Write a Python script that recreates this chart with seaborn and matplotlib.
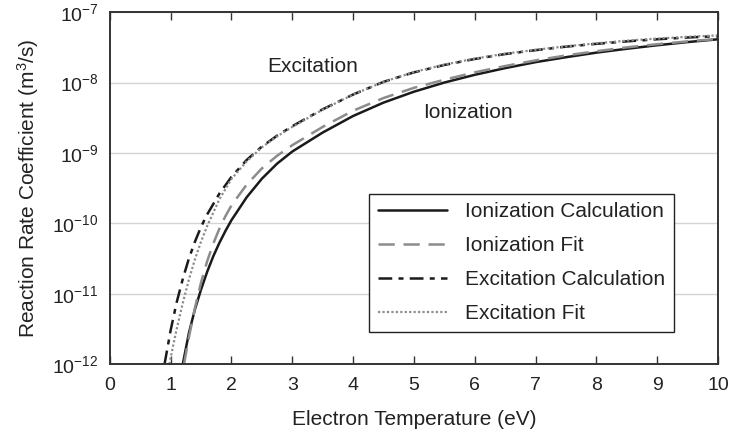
import numpy as np
import matplotlib
matplotlib.use("Agg")
import matplotlib.pyplot as plt
import pandas as pd
import seaborn as sns

# values (log10 of rate coefficient, m^3/s)
t_ion_calc = [1.2, 1.3, 1.4, 1.5, 1.6, 1.7, 1.8, 1.9, 2.0, 2.25, 2.5, 2.75, 3.0, 3.5, 4.0, 4.5, 5.0, 5.5,
              6.0, 6.5, 7.0, 7.5, 8.0, 8.5, 9.0, 9.5, 10.0]
k_ion_calc = [-12.0, -11.56, -11.22, -10.94, -10.69, -10.47, -10.28, -10.11, -9.955, -9.63, -9.366, -9.152,
              -8.98, -8.71, -8.475, -8.285, -8.13, -8.0, -7.89, -7.795, -7.71, -7.64, -7.575, -7.52,
              -7.47, -7.425, -7.385]

t_ion_fit = [1.22, 1.3, 1.4, 1.5, 1.6, 1.7, 1.8, 1.9, 2.0, 2.25, 2.5, 2.75, 3.0, 3.5, 4.0, 4.5, 5.0, 5.5,
             6.0, 6.5, 7.0, 7.5, 8.0, 8.5, 9.0, 9.5, 10.0]
k_ion_fit = [-12.0, -11.62, -11.2, -10.84, -10.54, -10.29, -10.08, -9.9, -9.745, -9.45, -9.22, -9.04,
             -8.89, -8.63, -8.40, -8.22, -8.075, -7.96, -7.855, -7.765, -7.685, -7.615, -7.555, -7.5,
             -7.455, -7.415, -7.38]

t_exc_calc = [0.9, 1.0, 1.1, 1.2, 1.3, 1.4, 1.5, 1.6, 1.8, 2.0, 2.25, 2.5, 2.75, 3.0, 3.5, 4.0, 4.5, 5.0,
              5.5, 6.0, 6.5, 7.0, 7.5, 8.0, 8.5, 9.0, 9.5, 10.0]
k_exc_calc = [-12.0, -11.52, -11.12, -10.79, -10.5, -10.26, -10.05, -9.875, -9.58, -9.34, -9.1, -8.91,
              -8.755, -8.62, -8.38, -8.17, -7.99, -7.855, -7.75, -7.665, -7.595, -7.54, -7.49, -7.45,
              -7.415, -7.385, -7.36, -7.34]

t_exc_fit = [0.98, 1.05, 1.1, 1.2, 1.3, 1.4, 1.5, 1.6, 1.8, 2.0, 2.25, 2.5, 2.75, 3.0, 3.5, 4.0, 4.5, 5.0,
             5.5, 6.0, 6.5, 7.0, 7.5, 8.0, 8.5, 9.0, 9.5, 10.0]
k_exc_fit = [-12.0, -11.7, -11.5, -11.13, -10.8, -10.51, -10.26, -10.04, -9.66, -9.37, -9.12, -8.92,
             -8.765, -8.63, -8.385, -8.17, -7.99, -7.85, -7.745, -7.66, -7.59, -7.535, -7.485, -7.443,
             -7.405, -7.375, -7.35, -7.33]

sns.set_theme(style="white")
plt.rcParams["font.family"] = ["Liberation Sans", "DejaVu Sans"]
plt.rcParams["mathtext.fontset"] = "custom"
plt.rcParams["mathtext.rm"] = "Liberation Sans"
plt.rcParams["mathtext.it"] = "Liberation Sans:italic"
plt.rcParams["mathtext.bf"] = "Liberation Sans:bold"

txt = "#222222"
fig = plt.figure(figsize=(7.32, 4.34), dpi=100)
ax = fig.add_axes([0.150, 0.161, 0.831, 0.811])

series = [
    (t_ion_calc, k_ion_calc, "Ionization Calculation", "#1a1a1a", "-", 1.8),
    (t_ion_fit, k_ion_fit, "Ionization Fit", "#8c8c8c", (0, (6.5, 3.5)), 1.8),
    (t_exc_calc, k_exc_calc, "Excitation Calculation", "#1a1a1a", (0, (5.5, 2.5, 2, 2.5)), 1.8),
    (t_exc_fit, k_exc_fit, "Excitation Fit", "#8c8c8c", (0, (1, 1)), 1.6),
]
for t, k, lab, col, ls, lw in series:
    df = pd.DataFrame({"T": t, "k": 10.0 ** np.array(k)})
    sns.lineplot(data=df, x="T", y="k", ax=ax, color=col, linestyle=ls,
                 linewidth=lw, label=lab, sort=False)

ax.set_yscale("log")
ax.set_xlim(0, 10)
ax.set_ylim(1e-12, 1e-7)
ax.set_xticks(range(0, 11))
ax.set_yticks([1e-12, 1e-11, 1e-10, 1e-9, 1e-8, 1e-7])
ax.yaxis.set_minor_locator(matplotlib.ticker.NullLocator())
ax.grid(axis="y", color="#d4d4d4", linewidth=1.0)
ax.grid(axis="x", visible=False)
ax.tick_params(axis="x", direction="in", length=6, width=1, color="#333333",
               top=True, bottom=True, labelsize=14, labelcolor=txt, pad=9)
ax.tick_params(axis="y", length=0, labelsize=14, labelcolor=txt, pad=8)
for s in ax.spines.values():
    s.set_color("#333333")
    s.set_linewidth(1.4)

ax.set_xlabel("Electron Temperature (eV)", fontsize=15, color=txt, labelpad=12)
ax.set_ylabel("Reaction Rate Coefficient (m$^3$/s)", fontsize=15, color=txt, labelpad=8)

ax.text(3.34, 10 ** -7.77, "Excitation", fontsize=15, color=txt, ha="center", va="center")
ax.text(5.89, 10 ** -8.43, "Ionization", fontsize=15, color=txt, ha="center", va="center")

leg = ax.legend(loc="lower right", bbox_to_anchor=(0.928, 0.091), fontsize=15,
                frameon=True, fancybox=False, edgecolor="#222222", framealpha=1,
                handlelength=3.3, labelspacing=0.72, borderpad=0.42, handletextpad=0.9,
                borderaxespad=0)
leg.get_frame().set_linewidth(1.0)
for t in leg.get_texts():
    t.set_color(txt)

fig.savefig("out.png", dpi=100)
